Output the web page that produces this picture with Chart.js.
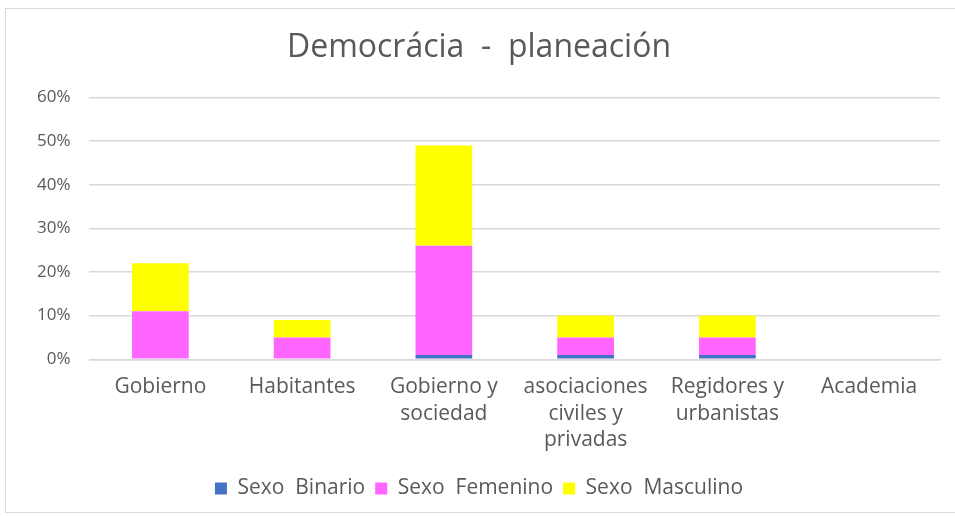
<!DOCTYPE html>
<html>
<head>
<meta charset="utf-8">
<script src="https://cdn.jsdelivr.net/npm/chart.js@4"></script>
<style>
  body { margin: 0; background: #fff; }
  #frame { position: absolute; left: 5px; top: 8px; width: 960px; height: 503px; border: 1.5px solid #d9d9d9; }
  #mycanvas { position: absolute; left: 0; top: 0; }
</style>
</head>
<body>
<div id="frame"></div>
<canvas id="mycanvas" width="955" height="516"></canvas>
<script>
// categorias y valores (en %)
var categorias = ["Gobierno", ["Habitantes"], ["Gobierno y", "sociedad"], ["asociaciones", "civiles y", "privadas"], ["Regidores y", "urbanistas"], "Academia"];
var sexoBinario = [0, 0, 1, 1, 1, 0];
var sexoFemenino = [11, 5, 25, 4, 4, 0];
var sexoMasculino = [11, 4, 23, 5, 5, 0];
var yTicks = [0, 10, 20, 30, 40, 50, 60];

var gris = "#595959";
var fuente = "'Open Sans', 'Noto Sans', sans-serif";

var chartdata = {
  labels: categorias,
  datasets: [
    { label: "Sexo  Binario", backgroundColor: "#4472C4", data: sexoBinario },
    { label: "Sexo  Femenino", backgroundColor: "#FF66FF", data: sexoFemenino },
    { label: "Sexo  Masculino", backgroundColor: "#FFFF00", data: sexoMasculino }
  ]
};

var ctx = document.getElementById("mycanvas");

var graf = new Chart(ctx, {
  type: 'bar',
  data: chartdata,
  options: {
    responsive: false,
    animation: false,
    barPercentage: 0.4,
    categoryPercentage: 1,
    layout: { padding: { left: 18, right: 15, top: 0, bottom: 7 } },
    plugins: {
      title: {
        display: true,
        text: "Democrácia  -  planeación",
        color: gris,
        font: { family: fuente, size: 32, weight: 'normal' },
        padding: { top: 29, bottom: 30 }
      },
      legend: {
        position: 'bottom',
        labels: {
          color: gris,
          font: { family: fuente, size: 21 },
          boxWidth: 12,
          boxHeight: 12,
          padding: 10
        }
      },
      tooltip: { enabled: false }
    },
    scales: {
      x: {
        stacked: true,
        grid: { display: false },
        border: { color: "#d9d9d9", width: 1.5 },
        ticks: { color: gris, font: { family: fuente, size: 21, lineHeight: 1.25 }, maxRotation: 0, padding: 7 },
        afterFit: function(scale) { scale.height += 8; }
      },
      y: {
        stacked: true,
        min: 0,
        max: 60,
        afterBuildTicks: function(axis) { axis.ticks = yTicks.map(function(v){ return { value: v }; }); },
        grid: { color: "#d9d9d9", lineWidth: 1.5, drawTicks: false },
        border: { display: false },
        ticks: {
          color: gris,
          font: { family: fuente, size: 17 },
          padding: 19,
          callback: function(v) { return v + "%"; }
        }
      }
    }
  }
});
</script>
</body>
</html>
